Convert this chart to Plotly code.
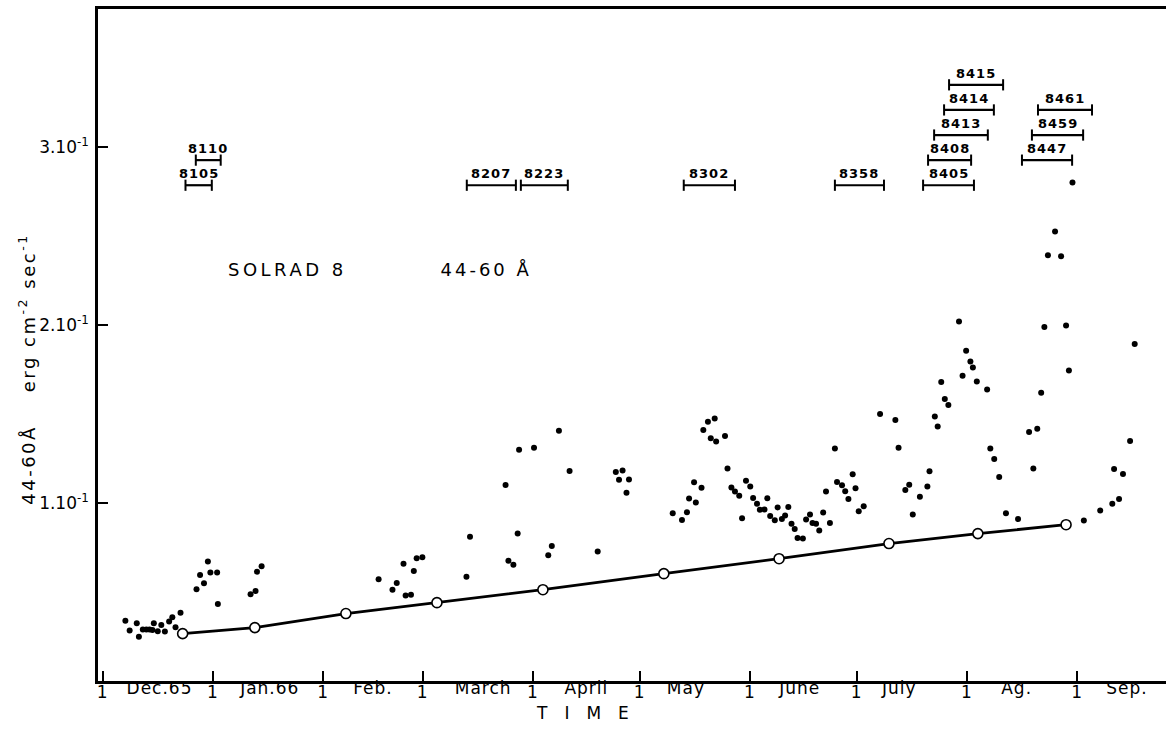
import pandas as pd
import plotly.graph_objects as go

# Time is counted in days from 1 December 1965
START = pd.Timestamp("1965-12-01")

# SOLRAD 8, 44-60 Å daily flux (erg cm-2 sec-1)
flux_day = [6.4, 7.6, 9.6, 10.2, 11.3, 12.3, 13.2, 14.0, 14.4, 15.5, 16.5, 17.5, 18.7, 19.6, 20.5, 21.9,
            26.4, 27.4, 28.5, 29.6, 30.3, 32.2, 32.4, 41.6, 43.0, 43.4, 44.7,
            77.6, 81.5, 82.7, 84.6, 85.2, 86.7, 87.5, 88.3, 89.9,
            102.3, 103.3, 113.3, 114.1, 115.5, 116.7, 117.1, 121.3, 125.3, 126.3, 128.3, 131.3, 139.2,
            144.3, 146.2, 145.2, 148.0, 147.3,
            160.3, 162.9, 164.3, 164.9, 166.3, 166.8, 168.4, 168.9, 170.2, 172.1,
            171.0, 172.5, 175.0, 175.7, 176.8, 177.8, 179.0, 179.8, 180.9, 182.1,
            182.9, 184.0, 184.8, 186.1, 186.9, 187.7, 189.0, 189.8, 191.0, 191.9,
            192.8, 193.7, 194.6, 195.4, 196.9, 197.8, 198.9, 199.6, 200.6, 201.5,
            202.6, 203.4, 204.5, 205.9, 206.5, 207.9, 208.8, 209.7, 210.9, 211.7,
            212.6, 214.0,
            218.6, 222.9, 223.8, 225.7, 226.8, 227.8, 229.8, 231.9, 232.5, 234.0,
            234.8, 235.8, 236.8, 237.8, 240.8, 241.8, 242.8, 244.0, 244.7, 245.8,
            248.7, 249.6, 250.7, 252.1, 254.0, 257.4,
            260.5, 261.7, 262.8, 263.9, 264.8, 265.8, 267.8, 269.5, 270.9, 271.7, 272.7,
            275.9, 280.5, 283.9, 284.4, 285.8, 286.9, 288.9, 290.2]
flux_val = [0.0339, 0.0283, 0.0324, 0.0248, 0.0290, 0.0290, 0.0289, 0.0287, 0.0324, 0.0279, 0.0315, 0.0278,
            0.0334, 0.0358, 0.0302, 0.0383,
            0.0515, 0.0596, 0.0549, 0.0672, 0.0609, 0.0609, 0.0433, 0.0487, 0.0506, 0.0614, 0.0644,
            0.0571, 0.0513, 0.0551, 0.0658, 0.0481, 0.0485, 0.0618, 0.0689, 0.0695,
            0.0585, 0.0811, 0.1101, 0.0676, 0.0653, 0.0828, 0.1299, 0.1310, 0.0706, 0.0759, 0.1406, 0.1180, 0.0728,
            0.1174, 0.1183, 0.1131, 0.1132, 0.1058,
            0.0943, 0.0905, 0.0948, 0.1025, 0.1117, 0.1003, 0.1085, 0.1410, 0.1456, 0.1475,
            0.1363, 0.1346, 0.1376, 0.1194, 0.1087, 0.1065, 0.1041, 0.0914, 0.1125, 0.1093,
            0.1028, 0.0996, 0.0962, 0.0964, 0.1026, 0.0927, 0.0903, 0.0975, 0.0910, 0.0930,
            0.0978, 0.0884, 0.0854, 0.0804, 0.0801, 0.0907, 0.0935, 0.0888, 0.0884, 0.0846,
            0.0946, 0.1065, 0.0888, 0.1306, 0.1118, 0.1099, 0.1066, 0.1023, 0.1161, 0.1083,
            0.0953, 0.0981,
            0.1500, 0.1466, 0.1310, 0.1073, 0.1103, 0.0936, 0.1035, 0.1093, 0.1178, 0.1486,
            0.1430, 0.1679, 0.1584, 0.1550, 0.2019, 0.1715, 0.1855, 0.1795, 0.1761, 0.1683,
            0.1638, 0.1306, 0.1247, 0.1146, 0.0942, 0.0910,
            0.1399, 0.1194, 0.1417, 0.1619, 0.1988, 0.2392, 0.2525, 0.2386, 0.1997, 0.1744, 0.2800,
            0.0901, 0.0958, 0.0996, 0.1191, 0.1022, 0.1163, 0.1348, 0.1893]

# Background (quiet-sun) level
bg_day = [22.5, 42.8, 68.4, 94.0, 123.8, 157.8, 190.2, 221.1, 246.1, 270.9]
bg_val = [0.0266, 0.0300, 0.0379, 0.0440, 0.0513, 0.0603, 0.0687, 0.0772, 0.0828, 0.0878]

# Active-region disk passages
region_name = ["8105", "8110", "8207", "8223", "8302", "8358", "8405", "8408",
               "8413", "8414", "8415", "8447", "8459", "8461"]
region_start = [23.3, 26.2, 102.4, 117.6, 163.4, 205.9, 230.7, 232.1, 233.8, 236.6, 238.0, 258.5, 261.3, 263.0]
region_end = [30.7, 33.2, 116.2, 130.8, 177.8, 219.7, 245.0, 244.2, 248.9, 250.6, 253.2, 272.6, 275.7, 278.2]
region_row = [0, 1, 0, 0, 0, 0, 0, 1, 2, 3, 4, 1, 2, 3]

# Axis labelling
month_start_day = [0, 31, 62, 90, 121, 151, 182, 212, 243, 274]
month_label_day = [16, 47, 76, 107, 136, 164, 196, 224, 257, 288]
month_names = ["Dec.65", "Jan.66", "Feb.", "March", "April", "May", "June", "July", "Ag.", "Sep."]
y_ticks = [0.1, 0.2, 0.3]
y_ticktext = ["1.10<sup>-1</sup>", "2.10<sup>-1</sup>", "3.10<sup>-1</sup>"]


def to_date(days):
    return list(START + pd.to_timedelta(pd.Series(days, dtype=float), unit="D"))


FONT = "DejaVu Sans"
ROW_BASE, ROW_STEP = 0.2785, 0.0141

fig = go.Figure()

fig.add_trace(go.Scatter(
    x=to_date(flux_day), y=flux_val, xaxis="x2", mode="markers",
    marker=dict(size=6, color="black"), hoverinfo="skip"))

fig.add_trace(go.Scatter(
    x=to_date(bg_day), y=bg_val, mode="lines+markers",
    line=dict(color="black", width=2.8),
    marker=dict(size=10, color="white", line=dict(color="black", width=1.6)),
    hoverinfo="skip"))

annotations = []
for name, s, e, row in zip(region_name, region_start, region_end, region_row):
    lvl = ROW_BASE + row * ROW_STEP
    fig.add_trace(go.Scatter(
        x=to_date([s, e]), y=[lvl, lvl], mode="lines+markers",
        line=dict(color="black", width=2.2),
        marker=dict(symbol="line-ns-open", size=8, line=dict(color="black", width=2)),
        hoverinfo="skip"))
    annotations.append(dict(
        x=to_date([(s + e) / 2])[0], y=lvl, xref="x", yref="y",
        text="<b>" + name + "</b>", showarrow=False, yanchor="bottom", yshift=2,
        font=dict(family=FONT, size=13, color="black")))

annotations += [
    dict(x=0.1774, y=0.612, xref="paper", yref="paper", text="SOLRAD 8", showarrow=False,
         xanchor="center", yanchor="middle", font=dict(family=FONT, size=18, color="black")),
    dict(x=0.3638, y=0.612, xref="paper", yref="paper", text="44-60 Å", showarrow=False,
         xanchor="center", yanchor="middle", font=dict(family=FONT, size=18, color="black")),
    dict(x=0.4615, y=-0.0483, xref="paper", yref="paper", text="TIME", showarrow=False,
         xanchor="center", yanchor="middle", font=dict(family=FONT, size=17, color="black")),
    dict(x=0, y=0.4632, xref="paper", yref="paper", xshift=-71, textangle=-90,
         text="44-60Å\u00a0\u00a0\u00a0 erg cm<sup>-2</sup> sec<sup>-1</sup>", showarrow=False,
         xanchor="center", yanchor="middle", font=dict(family=FONT, size=18, color="black")),
]

fig.update_layout(
    width=1166, height=738,
    margin=dict(l=98, r=0, t=9, b=57),
    paper_bgcolor="white", plot_bgcolor="white",
    showlegend=False,
    font=dict(family=FONT, size=16, color="black"),
    annotations=annotations,
    xaxis=dict(
        type="date", range=to_date([-1.3, 299]),
        tickvals=to_date(month_start_day), ticktext=["1"] * len(month_start_day),
        ticks="inside", ticklen=10, tickwidth=1.5, tickcolor="black",
        showline=True, linewidth=2.5, linecolor="black", mirror=True,
        showgrid=False, zeroline=False, tickfont=dict(family=FONT, size=17),
        ticklabelstandoff=-6),
    xaxis2=dict(
        type="date", overlaying="x", matches="x", side="bottom",
        tickvals=to_date(month_label_day), ticktext=month_names,
        ticks="", showline=False, showgrid=False, zeroline=False,
        tickfont=dict(family=FONT, size=17), ticklabelstandoff=-5),
    yaxis=dict(
        range=[0, 0.3775], tickvals=y_ticks, ticktext=y_ticktext,
        ticks="inside", ticklen=10, tickwidth=1.5, tickcolor="black",
        showline=True, linewidth=2.5, linecolor="black", mirror=False,
        showgrid=False, zeroline=False, tickfont=dict(family=FONT, size=17),
        ticklabelstandoff=3),
)

# widen the spacing of the hand-lettered captions
spacing_js = """
var gd = document.getElementById('{plot_id}');
var wide = {'TIME': '17px', 'SOLRAD 8': '3.5px', '44-60 Å': '3px'};
gd.querySelectorAll('text').forEach(function(t) {
    if (t.closest('.ytick')) { return; }
    var s = t.textContent;
    if (wide[s]) { t.style.letterSpacing = wide[s]; }
    else if (s.indexOf('erg') >= 0) { t.style.letterSpacing = '2.5px'; }
    else { t.style.letterSpacing = '1px'; }
});
"""

fig.write_html("out.html", post_script=spacing_js)
